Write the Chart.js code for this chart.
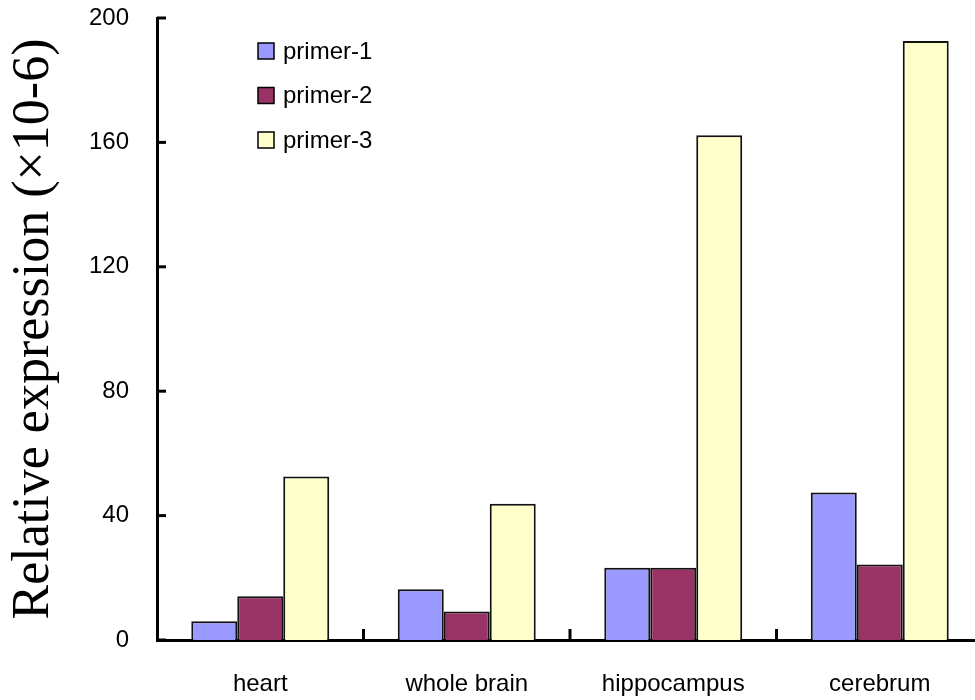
<!DOCTYPE html>
<html>
<head>
<meta charset="utf-8">
<script src="https://cdn.jsdelivr.net/npm/chart.js@4/dist/chart.umd.min.js"></script>
<style>
  html, body { margin: 0; padding: 0; background: #fff; overflow: hidden; }
  #wrap { width: 990px; height: 700px; position: relative; }
</style>
</head>
<body>
<div id="wrap"><canvas id="dataChart"></canvas></div>
<script>
// values (x10-6)
var categories = ["heart", "whole brain", "hippocampus", "cerebrum"];
var primer1 = [6, 16.3, 23.2, 47.4];
var primer2 = [14.1, 9.2, 23.2, 24.3];
var primer3 = [52.6, 43.8, 162.3, 192.6];
var yTicks = [0, 40, 80, 120, 160, 200];

var seriesNames = ["primer-1", "primer-2", "primer-3"];
var seriesColors = ["#9999FF", "#993366", "#FFFFCC"];

// inward ticks on both axes + legend drawn inside the plot
var axisDecor = {
  id: "axisDecor",
  afterDraw: function (chart) {
    var c = chart.ctx, x = chart.scales.x, y = chart.scales.y;
    c.save();
    c.strokeStyle = "#000";
    c.lineWidth = 3;
    yTicks.forEach(function (v) {
      var py = y.getPixelForValue(v);
      c.beginPath();
      c.moveTo(x.left, py);
      c.lineTo(x.left + 9, py);
      c.stroke();
    });
    for (var i = 1; i < categories.length; i++) {
      var px = x.getPixelForValue(i - 0.5);
      c.beginPath();
      c.moveTo(px, y.bottom);
      c.lineTo(px, y.bottom - 11);
      c.stroke();
    }
    // legend
    c.font = "24px 'Liberation Sans', Arial, sans-serif";
    c.textBaseline = "middle";
    chart.data.datasets.forEach(function (ds, k) {
      var bx = chart.chartArea.left + 101;
      var by = chart.chartArea.top + 33 + k * 44.5;
      c.fillStyle = ds.backgroundColor;
      c.fillRect(bx, by - 8, 16, 16);
      c.lineWidth = 1.5;
      c.strokeStyle = "#000";
      c.strokeRect(bx, by - 8, 16, 16);
      c.fillStyle = "#000";
      c.fillText(ds.label, bx + 25, by + 1);
    });
    c.restore();
  }
};

var ctx = document.getElementById("dataChart");

var chart = new Chart(ctx, {
  type: "bar",
  data: {
    labels: categories,
    datasets: [
      { label: seriesNames[0], data: primer1, backgroundColor: seriesColors[0] },
      { label: seriesNames[1], data: primer2, backgroundColor: seriesColors[1] },
      { label: seriesNames[2], data: primer3, backgroundColor: seriesColors[2] }
    ]
  },
  options: {
    responsive: true,
    maintainAspectRatio: false,
    animation: false,
    layout: { padding: { top: 18, right: 7, left: 0, bottom: 0 } },
    datasets: {
      bar: {
        borderColor: "#111",
        borderWidth: 2,
        barPercentage: 1.0,
        categoryPercentage: 0.668
      }
    },
    plugins: {
      legend: { display: false },
      tooltip: { enabled: false }
    },
    scales: {
      x: {
        grid: { display: false, drawTicks: false },
        border: { display: true, color: "#000", width: 3 },
        ticks: {
          color: "#000",
          padding: 30,
          font: { family: "'Liberation Sans', Arial, sans-serif", size: 24 }
        },
        afterFit: function (s) { s.height = 60; s.paddingLeft = 0; s.paddingRight = 0; }
      },
      y: {
        min: 0,
        max: 200,
        grid: { display: false, drawTicks: false },
        border: { display: true, color: "#000", width: 3 },
        afterBuildTicks: function (s) { s.ticks = yTicks.map(function (v) { return { value: v }; }); },
        ticks: {
          color: "#000",
          padding: 28,
          font: { family: "'Liberation Sans', Arial, sans-serif", size: 24 }
        },
        title: {
          display: true,
          text: "Relative expression (\u00d710-6)",
          color: "#000",
          padding: { top: 3, bottom: 0 },
          font: { family: "'Liberation Serif', 'Times New Roman', serif", size: 52 }
        },
        afterFit: function (s) { s.width = 157; s.paddingTop = 0; s.paddingBottom = 0; }
      }
    }
  },
  plugins: [axisDecor]
});
</script>
</body>
</html>
